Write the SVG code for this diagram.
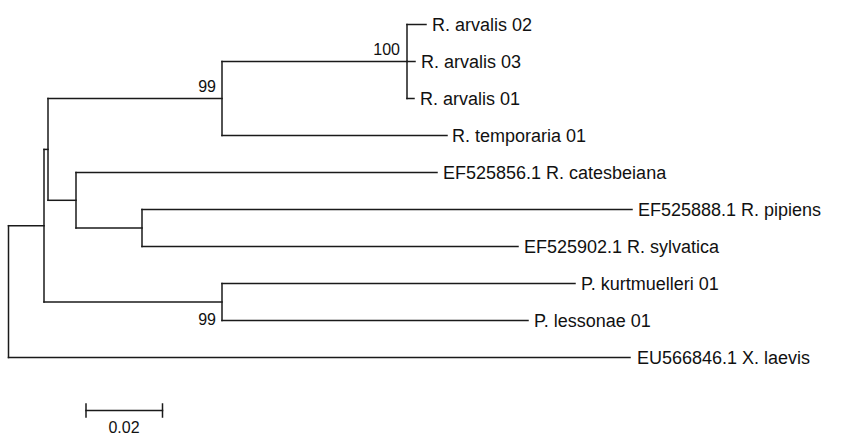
<svg xmlns="http://www.w3.org/2000/svg" width="842" height="435" viewBox="0 0 842 435">
  <style>
    .br { fill: none; stroke: #1a1a1a; stroke-width: 1.5; stroke-linecap: square; }
    .tip { font-family: "Liberation Sans", Arial, sans-serif; font-size: 18px; fill: #111; }
    .bs { font-family: "Liberation Sans", Arial, sans-serif; font-size: 16px; fill: #111; text-anchor: end; }
    .sc { font-family: "Liberation Sans", Arial, sans-serif; font-size: 16px; fill: #111; text-anchor: middle; }
  </style>
  <rect width="842" height="435" fill="#ffffff"/>

  <!-- branches -->
  <g id="connectors" class="br">
    <!-- root -->
    <path d="M8.5,225.7 V357.5"/>
    <path d="M8.5,225.7 H44"/>
    <path d="M8.5,357.5 H630"/>
    <!-- ingroup node -->
    <path d="M44,149.4 V302"/>
    <path d="M44,149.4 H48"/>
    <path d="M44,302 H222"/>
    <!-- Rana node -->
    <path d="M48,98.5 V200.3"/>
    <path d="M48,98.5 H222"/>
    <path d="M48,200.3 H76"/>
    <!-- brown frogs (99) -->
    <path d="M222,61.5 V135.5"/>
    <path d="M222,61.5 H407"/>
    <path d="M222,135.5 H447"/>
    <!-- arvalis (100) -->
    <path d="M407,24.5 V98.5"/>
    <path d="M407,24.5 H426"/>
    <path d="M407,61.5 H415"/>
    <path d="M407,98.5 H414"/>
    <!-- American ranids -->
    <path d="M76,172.5 V228"/>
    <path d="M76,172.5 H437"/>
    <path d="M76,228 H142"/>
    <path d="M142,209.5 V246.5"/>
    <path d="M142,209.5 H632"/>
    <path d="M142,246.5 H518"/>
    <!-- Pelophylax (99) -->
    <path d="M222,283.5 V320.5"/>
    <path d="M222,283.5 H575"/>
    <path d="M222,320.5 H528"/>
    <!-- scale bar -->
    <path d="M86,410.5 H162.5"/>
    <path d="M86,404 V417"/>
    <path d="M162.5,404 V417"/>
  </g>

  <!-- tip labels -->
  <g id="tip-arvalis-02"><text class="tip" x="432" y="31">R. arvalis 02</text></g>
  <g id="tip-arvalis-03"><text class="tip" x="421" y="68">R. arvalis 03</text></g>
  <g id="tip-arvalis-01"><text class="tip" x="420" y="105">R. arvalis 01</text></g>
  <g id="tip-temporaria-01"><text class="tip" x="452" y="142">R. temporaria 01</text></g>
  <g id="tip-catesbeiana"><text class="tip" x="443" y="179">EF525856.1 R. catesbeiana</text></g>
  <g id="tip-pipiens"><text class="tip" x="638" y="216">EF525888.1 R. pipiens</text></g>
  <g id="tip-sylvatica"><text class="tip" x="524" y="253">EF525902.1 R. sylvatica</text></g>
  <g id="tip-kurtmuelleri-01"><text class="tip" x="581" y="290">P. kurtmuelleri 01</text></g>
  <g id="tip-lessonae-01"><text class="tip" x="534" y="327">P. lessonae 01</text></g>
  <g id="tip-laevis"><text class="tip" x="637" y="364">EU566846.1 X. laevis</text></g>

  <!-- bootstrap support -->
  <g id="support">
    <text class="bs" x="400" y="55">100</text>
    <text class="bs" x="216" y="92">99</text>
    <text class="bs" x="216" y="325">99</text>
  </g>

  <!-- scale -->
  <g id="scale"><text class="sc" x="124" y="433">0.02</text></g>
</svg>
